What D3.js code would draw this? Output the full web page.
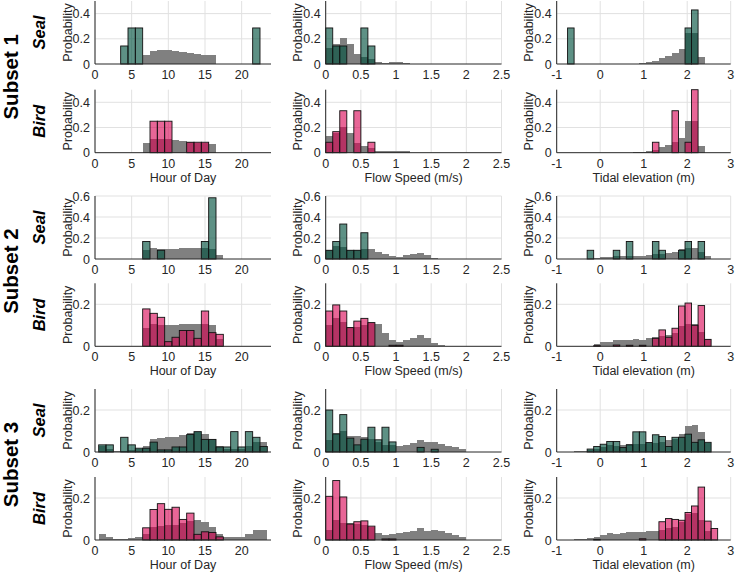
<!DOCTYPE html>
<meta charset='utf-8'>
<style>
  body { margin: 0; background: #fff; }
  svg { font-family: 'Liberation Sans', Arial, Helvetica, sans-serif; }
  .grid { stroke: #e1e1e1; stroke-width: 1; }
  .axis-line { stroke: #262626; stroke-width: 1; }
  .tick-label { font-size: 12.5px; fill: #262626; }
  .ylabel, .xlabel { font-size: 12.5px; fill: #262626; }
  .subset { font-size: 20.5px; font-weight: bold; fill: #000; }
  .animal { font-size: 16.5px; font-weight: bold; font-style: italic; fill: #000; }
</style>

<svg width='735' height='573'></svg>
<script src="https://cdnjs.cloudflare.com/ajax/libs/d3/7.8.5/d3.min.js"></script>
<script>
  // ---- data: probabilities per bin ----
  // hour bins are centred on whole hours 0..23
  var hourS1All  = [0,0,0,0,0,0,0,0.075,0.105,0.11,0.11,0.10,0.095,0.085,0.08,0.075,0.068,0,0,0,0,0,0,0];
  var hourS1Seal = [0,0,0,0,0.143,0.286,0.286,0,0,0,0,0,0,0,0,0,0,0,0,0,0,0,0.286,0];
  var hourS1Bird = [0,0,0,0,0,0,0,0,0.25,0.25,0.25,0,0,0.083,0.083,0.083,0,0,0,0,0,0,0,0];
  var hourS2All  = [0,0,0,0,0,0,0,0.085,0.108,0.1,0.1,0.1,0.105,0.105,0.105,0.105,0.1,0.035,0,0,0,0,0,0];
  var hourS2Seal = [0,0,0,0,0,0,0,0.167,0,0.083,0,0,0,0,0,0.167,0.583,0,0,0,0,0,0,0];
  var hourS2Bird = [0,0,0,0,0,0,0,0.178,0.157,0.138,0.022,0.043,0.075,0.075,0.038,0.168,0.065,0.057,0,0,0,0,0,0];
  var hourS3All  = [0,0.028,0.013,0.005,0.005,0.008,0.016,0.03,0.063,0.068,0.071,0.071,0.079,0.09,0.094,0.087,0.063,0.03,0.016,0.016,0.016,0.03,0.047,0.047];
  var hourS3Seal = [0,0.034,0.034,0,0.07,0.034,0.018,0.018,0.047,0.01,0.01,0.024,0.024,0.083,0.097,0.06,0.06,0.024,0.024,0.097,0.024,0.097,0.07,0.026];
  var hourS3Bird = [0,0,0,0,0,0,0,0.058,0.145,0.173,0.146,0.156,0.098,0.128,0.027,0.039,0.036,0.015,0,0,0,0,0,0];

  // flow bins are 0.1 m/s wide starting at 0
  var flowS1All     = [0.13,0.16,0.205,0.16,0.08,0.055,0.04,0.015,0.01,0.015,0.015,0.01];
  var flowS1Seal    = [0.286,0.143,0.143,0,0,0.286,0.143];
  var flowS1Bird    = [0.083,0.167,0.333,0,0.333,0,0.083];
  var flowS2SealAll = [0.09,0.12,0.11,0.09,0.085,0.095,0.095,0.07,0.048,0.03,0.022,0.035,0.048,0.057,0.038,0.01];
  var flowS2BirdAll = [0.1,0.137,0.118,0.09,0.09,0.1,0.11,0.106,0.062,0.03,0.022,0.03,0.041,0.054,0.038,0.014,0.005];
  var flowS2Seal    = [0.083,0.167,0.333,0.083,0.083,0.25];
  var flowS2Bird    = [0.168,0.197,0.168,0.089,0.12,0.133,0.113,0,0,0.005,0.005];
  var flowS3SealAll = [0.058,0.09,0.1,0.077,0.077,0.07,0.06,0.05,0.035,0.035,0.029,0.034,0.045,0.058,0.046,0.046,0.038,0.029,0.022,0.013];
  var flowS3BirdAll = [0.05,0.094,0.079,0.079,0.075,0.07,0.06,0.035,0.024,0.028,0.035,0.039,0.044,0.055,0.044,0.047,0.041,0.031,0.024,0.016];
  var flowS3Seal    = [0.2,0.086,0.178,0.066,0.034,0.061,0.118,0.058,0.118,0.048,0,0,0,0.022,0,0.013];
  var flowS3Bird    = [0.208,0.283,0.205,0.076,0.087,0.091,0.066,0,0.005,0.005];

  // tide bins are 0.15 m wide starting at -0.75
  var tideS1All  = [0,0,0,0,0,0,0,0,0,0,0.003,0.008,0.015,0.025,0.045,0.065,0.085,0.12,0.25,0.25,0.055,0,0];
  var tideS1Seal = [0.286,0,0,0,0,0,0,0,0,0,0,0,0,0,0,0,0,0,0.286,0.429,0,0,0];
  var tideS1Bird = [0,0,0,0,0,0,0,0,0,0,0,0,0,0.083,0,0,0.333,0,0.083,0.5,0,0,0];
  var tideS2All  = [0,0,0,0.003,0.011,0.022,0.019,0.029,0.03,0.03,0.033,0.029,0.038,0.046,0.05,0.054,0.065,0.095,0.105,0.105,0.07,0.033,0];
  var tideS2Seal = [0,0,0,0.083,0,0,0,0.083,0,0.167,0,0,0,0.167,0.083,0,0,0.083,0.167,0,0.167,0,0];
  var tideS2Bird = [0,0,0,0,0.003,0,0,0.006,0,0.005,0,0.005,0,0.038,0.078,0.043,0.086,0.192,0.206,0.1,0.194,0.033,0];
  var tideS3All  = [0,0.003,0.005,0.008,0.013,0.024,0.031,0.028,0.032,0.037,0.039,0.04,0.042,0.044,0.047,0.055,0.062,0.085,0.123,0.13,0.094,0.044,0];
  var tideS3Seal = [0,0,0,0.014,0.026,0.037,0.05,0.05,0.021,0.034,0.096,0.096,0.045,0.082,0.074,0.026,0.07,0.07,0.085,0.046,0.058,0.046,0];
  var tideS3Bird = [0,0,0,0,0.003,0,0,0,0,0,0,0.006,0,0,0.087,0.102,0.098,0.094,0.131,0.162,0.252,0.09,0.055];

  var xTicksHour = [0, 5, 10, 15, 20];
  var xTicksFlow = [0, 0.5, 1, 1.5, 2, 2.5];
  var xTicksTide = [-1, 0, 1, 2, 3];
  var yTicksHalf = [0, 0.2, 0.4];
  var yTicksSix  = [0, 0.2, 0.4, 0.6];
  var yTicksLow  = [0, 0.2];

  // ---- layout ----
  var svg = d3.select('svg');
  var rowBottom = [64, 152.7, 259, 346.3, 452, 540],
    plotH = 63,
    colLeft = [95, 325.7, 556.7],
    colRight = [271, 501.5, 730.7];

  var columns = [
    {domain: [0, 24], ticks: xTicksHour, label: 'Hour of Day', start: -0.5, width: 1},
    {domain: [0, 2.5], ticks: xTicksFlow, label: 'Flow Speed (m/s)', start: 0, width: 0.1},
    {domain: [-1, 3], ticks: xTicksTide, label: 'Tidal elevation (m)', start: -0.75, width: 0.15}
  ];

  var colours = {
    Seal: {fill: 'rgb(0,80,62)', opacity: 0.63},
    Bird: {fill: 'rgb(216,0,82)', opacity: 0.6}
  };

  var rows = [
    {subset: 1, animal: 'Seal', yMax: 0.5, yTicks: yTicksHalf, panels: [[hourS1All, hourS1Seal], [flowS1All, flowS1Seal], [tideS1All, tideS1Seal]]},
    {subset: 1, animal: 'Bird', yMax: 0.5, yTicks: yTicksHalf, panels: [[hourS1All, hourS1Bird], [flowS1All, flowS1Bird], [tideS1All, tideS1Bird]]},
    {subset: 2, animal: 'Seal', yMax: 0.6, yTicks: yTicksSix, panels: [[hourS2All, hourS2Seal], [flowS2SealAll, flowS2Seal], [tideS2All, tideS2Seal]]},
    {subset: 2, animal: 'Bird', yMax: 0.3, yTicks: yTicksLow, panels: [[hourS2All, hourS2Bird], [flowS2BirdAll, flowS2Bird], [tideS2All, tideS2Bird]]},
    {subset: 3, animal: 'Seal', yMax: 0.3, yTicks: yTicksLow, panels: [[hourS3All, hourS3Seal], [flowS3SealAll, flowS3Seal], [tideS3All, tideS3Seal]]},
    {subset: 3, animal: 'Bird', yMax: 0.3, yTicks: yTicksLow, panels: [[hourS3All, hourS3Bird], [flowS3BirdAll, flowS3Bird], [tideS3All, tideS3Bird]]}
  ];

  function toBins(vals, col) {
    return vals.map(function(v, i) {
      var a = Math.max(col.start + i * col.width, col.domain[0]);
      var b = Math.min(col.start + (i + 1) * col.width, col.domain[1]);
      return {x0: a, x1: b, v: v};
    }).filter(function(d) { return d.v > 0 && d.x1 > d.x0; });
  }

  function fmt(t) { return String(t); }

  rows.forEach(function(row, r) {
    var bottom = rowBottom[r], top = bottom - plotH;
    var y = d3.scaleLinear().domain([0, row.yMax]).range([bottom, top]);

    columns.forEach(function(col, c) {
      var x = d3.scaleLinear().domain(col.domain).range([colLeft[c], colRight[c]]);
      var g = svg.append('g').attr('class', 'panel');

      // grid
      g.selectAll('.vgrid').data(col.ticks).enter().append('line')
        .attr('class', 'grid')
        .attr('x1', function(d) { return x(d); })
        .attr('x2', function(d) { return x(d); })
        .attr('y1', top).attr('y2', bottom);
      g.selectAll('.hgrid').data(row.yTicks.filter(function(t) { return t > 0; })).enter().append('line')
        .attr('class', 'grid')
        .attr('x1', colLeft[c]).attr('x2', colRight[c])
        .attr('y1', function(d) { return y(d); })
        .attr('y2', function(d) { return y(d); });

      // background distribution
      g.selectAll('.bg').data(toBins(row.panels[c][0], col)).enter().append('rect')
        .attr('x', function(d) { return x(d.x0); })
        .attr('width', function(d) { return x(d.x1) - x(d.x0); })
        .attr('y', function(d) { return y(d.v); })
        .attr('height', function(d) { return y(0) - y(d.v); })
        .attr('fill', '#808080')
        .attr('shape-rendering', 'crispEdges');

      // animal distribution
      var cl = colours[row.animal];
      g.selectAll('.fg').data(toBins(row.panels[c][1], col)).enter().append('rect')
        .attr('x', function(d) { return x(d.x0); })
        .attr('width', function(d) { return x(d.x1) - x(d.x0); })
        .attr('y', function(d) { return y(d.v); })
        .attr('height', function(d) { return y(0) - y(d.v); })
        .attr('fill', cl.fill)
        .attr('fill-opacity', cl.opacity)
        .attr('stroke', '#111')
        .attr('stroke-width', 0.9);

      // axis lines
      g.append('line').attr('class', 'axis-line')
        .attr('x1', colLeft[c]).attr('x2', colLeft[c]).attr('y1', top).attr('y2', bottom);
      g.append('line').attr('class', 'axis-line')
        .attr('x1', colLeft[c]).attr('x2', colRight[c]).attr('y1', bottom).attr('y2', bottom);

      // tick labels
      g.selectAll('.xt').data(col.ticks).enter().append('text')
        .attr('class', 'tick-label')
        .attr('x', function(d) { return x(d); })
        .attr('y', bottom + 6)
        .attr('dy', '0.72em')
        .attr('text-anchor', 'middle')
        .text(fmt);
      g.selectAll('.yt').data(row.yTicks).enter().append('text')
        .attr('class', 'tick-label')
        .attr('x', colLeft[c] - 5)
        .attr('y', function(d) { return y(d); })
        .attr('dy', '0.36em')
        .attr('text-anchor', 'end')
        .text(fmt);

      // y label
      g.append('text').attr('class', 'ylabel')
        .attr('transform', 'translate(' + (colLeft[c] - 23.5) + ',' + ((top + bottom) / 2) + ') rotate(-90)')
        .attr('text-anchor', 'middle')
        .text('Probability');

      // x label under the bird rows
      if (row.animal === 'Bird') {
        g.append('text').attr('class', 'xlabel')
          .attr('x', (colLeft[c] + colRight[c]) / 2)
          .attr('y', bottom + 29)
          .attr('text-anchor', 'middle')
          .text(col.label);
      }
    });

    // animal label
    svg.append('text').attr('class', 'animal')
      .attr('transform', 'translate(45,' + ((top + bottom) / 2) + ') rotate(-90)')
      .attr('text-anchor', 'middle')
      .text(row.animal);
  });

  // subset labels
  [1, 2, 3].forEach(function(s, i) {
    var top = rowBottom[i * 2] - plotH, bottom = rowBottom[i * 2 + 1];
    svg.append('text').attr('class', 'subset')
      .attr('transform', 'translate(18,' + ((top + bottom) / 2) + ') rotate(-90)')
      .attr('text-anchor', 'middle')
      .text('Subset ' + s);
  });
</script>
